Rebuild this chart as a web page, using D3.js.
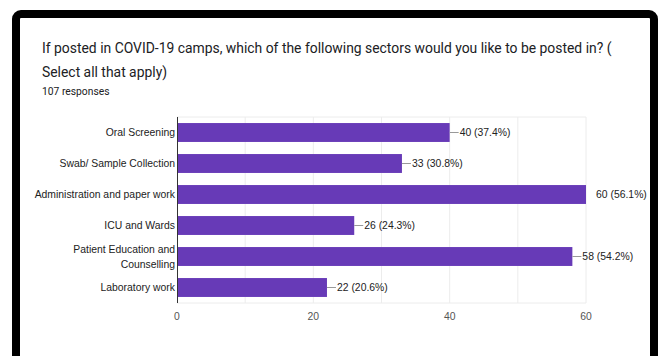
<!DOCTYPE html>
<html>
<head>
<meta charset="utf-8">
<script src="https://cdn.jsdelivr.net/npm/d3@7"></script>
<style>
  html, body { margin: 0; padding: 0; background: #fff; }
  svg { display: block; }
</style>
</head>
<body>
<svg id="chart" width="660" height="356"></svg>
<script>
// Survey question and response count
const titleLines = [
  "If posted in COVID-19 camps, which of the following sectors would you like to be posted in? (",
  "Select all that apply)"
];
const responsesText = "107 responses";

// Sectors (line breaks mark wrapped labels)
const categories = [
  "Oral Screening",
  "Swab/ Sample Collection",
  "Administration and paper work",
  "ICU and Wards",
  "Patient Education and\nCounselling",
  "Laboratory work"
];
const counts = [40, 33, 60, 26, 58, 22];
const percents = ["37.4%", "30.8%", "56.1%", "24.3%", "54.2%", "20.6%"];
const xTicks = [0, 20, 40, 60];
const xGrid = [10, 20, 30, 40, 50, 60];

const svg = d3.select("#chart");

// Black rounded frame around the card
svg.append("rect")
  .attr("x", 16).attr("y", 14)
  .attr("width", 638).attr("height", 420)
  .attr("rx", 5).attr("ry", 5)
  .attr("fill", "#fff")
  .attr("stroke", "#000")
  .attr("stroke-width", 8);

// Title, fitted to the card width
const titleFont = "Roboto, 'Open Sans', sans-serif";
const title = svg.append("g");
const t1 = title.append("text")
  .attr("x", 42).attr("y", 53)
  .attr("font-family", titleFont)
  .attr("font-size", 16)
  .attr("fill", "#202124")
  .text(titleLines[0]);
const w = t1.node().getComputedTextLength();
const fs = 16 * 570 / w;
t1.attr("font-size", fs);
title.append("text")
  .attr("x", 42).attr("y", 77)
  .attr("font-family", titleFont)
  .attr("font-size", fs)
  .attr("fill", "#202124")
  .text(titleLines[1]);
svg.append("text")
  .attr("x", 42).attr("y", 95)
  .attr("font-family", titleFont)
  .attr("font-size", 10.3)
  .attr("fill", "#202124")
  .text(responsesText);

// Scales
const x = d3.scaleLinear().domain([0, 60]).range([177, 586]);
const y = d3.scaleBand().domain(categories).range([117, 303])
  .paddingInner(0.39).paddingOuter(0.195);
const plotTop = 117, plotBottom = 303;

const labelFont = "'Liberation Sans', Arial, Helvetica, sans-serif";
const labelSize = 10.4;

// Gridlines and plot frame
const grid = svg.append("g");
grid.selectAll("line.v").data(xGrid).join("line")
  .attr("x1", d => x(d)).attr("x2", d => x(d))
  .attr("y1", plotTop).attr("y2", plotBottom)
  .attr("stroke", "#ececec").attr("stroke-width", 1);
grid.selectAll("line.h").data([plotTop, plotBottom]).join("line")
  .attr("x1", x(0)).attr("x2", x(60))
  .attr("y1", d => d).attr("y2", d => d)
  .attr("stroke", "#ececec").attr("stroke-width", 1);

// Bars
svg.append("g").selectAll("rect").data(categories).join("rect")
  .attr("x", x(0))
  .attr("y", d => y(d))
  .attr("width", (d, i) => x(counts[i]) - x(0))
  .attr("height", y.bandwidth())
  .attr("fill", "#673ab7");

// Baseline axis at zero
svg.append("line")
  .attr("x1", x(0) + 0.5).attr("x2", x(0) + 0.5)
  .attr("y1", plotTop).attr("y2", plotBottom)
  .attr("stroke", "#333").attr("stroke-width", 1);

// Category labels
const cat = svg.append("g").selectAll("text").data(categories).join("text")
  .attr("text-anchor", "end")
  .attr("font-family", labelFont)
  .attr("font-size", labelSize)
  .attr("fill", "#222");
cat.each(function(d) {
  const lines = d.split("\n");
  const cy = y(d) + y.bandwidth() / 2;
  const lh = 15;
  const y0 = cy - (lines.length - 1) * lh / 2;
  d3.select(this).selectAll("tspan").data(lines).join("tspan")
    .attr("x", x(0) - 2)
    .attr("y", (l, i) => y0 + i * lh)
    .attr("dy", "0.36em")
    .text(l => l);
});

// Value labels with leader lines
const vals = svg.append("g");
categories.forEach((c, i) => {
  const cy = y(c) + y.bandwidth() / 2;
  const xe = x(counts[i]);
  if (counts[i] < x.domain()[1]) {
    vals.append("line")
      .attr("x1", xe).attr("x2", xe + 9)
      .attr("y1", cy).attr("y2", cy)
      .attr("stroke", "#999").attr("stroke-width", 1);
  }
  vals.append("text")
    .attr("x", xe + 10)
    .attr("y", cy)
    .attr("dy", "0.36em")
    .attr("font-family", labelFont)
    .attr("font-size", labelSize)
    .attr("fill", "#222")
    .text(`${counts[i]} (${percents[i]})`);
});

// X tick labels
svg.append("g").selectAll("text").data(xTicks).join("text")
  .attr("x", d => x(d))
  .attr("y", 316)
  .attr("dy", "0.36em")
  .attr("text-anchor", "middle")
  .attr("font-family", labelFont)
  .attr("font-size", labelSize)
  .attr("fill", "#555")
  .text(d => d);
</script>
</body>
</html>
